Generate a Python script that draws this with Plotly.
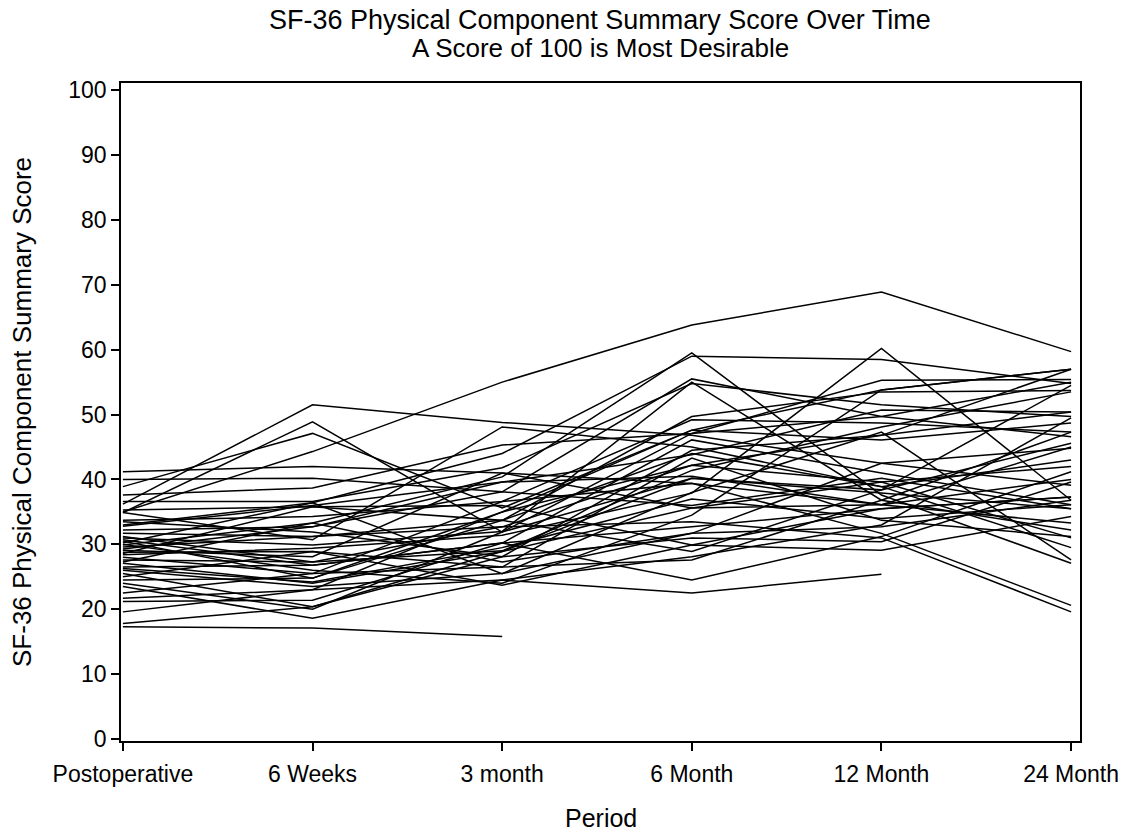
import plotly.graph_objects as go

periods = ["Postoperative", "6 Weeks", "3 month", "6 Month", "12 Month", "24 Month"]
y_ticks = [0, 10, 20, 30, 40, 50, 60, 70, 80, 90, 100]

# Each list: one patient's PCS score at the six periods (None = missing)
p01 = [35.0, 44.3, 55.0, 63.8, 68.9, 59.7]
p02 = [36.2, 51.5, 48.8, 46.8, 42.5, 39.1]
p03 = [34.9, 48.9, 31.9, 40.2, 38.4, 45.6]
p04 = [17.3, 17.1, 15.8, None, None, None]
p05 = [21.7, 23.0, 24.5, 22.5, 25.4, None]
p06 = [28.4, 29.4, 31.4, 37.9, 60.2, 36.8]
p07 = [33.0, 36.4, 44.0, 59.0, 58.5, 54.8]
p08 = [29.9, 33.3, 40.4, 59.5, 37.6, 27.1]
p09 = [41.2, 42.0, 41.0, 39.4, 36.1, 33.3]
p10 = [40.0, 40.2, 38.1, 55.5, 49.7, 46.6]
p11 = [38.9, 47.1, 35.6, 47.6, 53.8, 57.0]
p12 = [37.6, 38.7, 45.3, 47.1, 55.3, 55.4]
p13 = [36.6, 36.6, 41.8, 54.8, 51.5, 49.7]
p14 = [35.3, 35.8, 33.7, 49.7, 53.5, 53.7]
p15 = [33.7, 34.3, 36.6, 49.2, 48.7, 47.3]
p16 = [33.5, 31.9, 28.1, 44.5, 46.8, 57.0]
p17 = [32.2, 32.7, 39.6, 43.8, 50.7, 50.4]
p18 = [31.7, 31.2, 32.7, 42.2, 39.6, 42.0]
p19 = [31.2, 27.3, 29.0, 41.4, 48.1, 53.5]
p20 = [30.7, 26.8, 30.2, 46.1, 41.0, 36.1]
p21 = [30.5, 24.8, 35.0, 47.6, 46.1, 48.7]
p22 = [29.6, 31.2, 33.7, 44.0, 38.9, 43.0]
p23 = [29.1, 28.1, 41.0, 35.6, 36.1, 45.0]
p24 = [28.8, 28.9, 26.5, 43.3, 33.7, 31.2]
p25 = [28.0, 25.5, 36.6, 39.4, 31.7, 20.6]
p26 = [27.6, 27.3, 32.7, 33.5, 31.0, 19.6]
p27 = [27.1, 24.0, 28.9, 40.2, 37.9, 35.5]
p28 = [26.5, 26.8, 30.2, 32.7, 35.5, 37.3]
p29 = [26.0, 23.5, 25.5, 31.7, 32.7, 36.8]
p30 = [25.5, 20.4, 28.1, 31.0, 30.4, 39.6]
p31 = [25.0, 28.9, 23.7, 29.9, 29.1, 34.3]
p32 = [24.5, 24.8, 33.7, 28.9, 38.4, 54.5]
p33 = [24.0, 20.0, 31.9, 47.1, 49.7, 55.0]
p34 = [23.5, 18.6, 24.5, 28.1, 33.0, 49.5]
p35 = [22.5, 25.5, 26.5, 27.6, 36.8, 47.3]
p36 = [21.2, 21.4, 30.2, 24.5, 31.2, 41.2]
p37 = [19.6, 23.0, 35.0, 42.2, 46.8, 50.4]
p38 = [17.8, 20.4, 28.9, 35.6, 39.6, 31.0]
p39 = [34.9, 30.7, 48.1, 45.0, 38.9, 29.5]
p40 = [30.2, 36.4, 25.5, 38.0, 47.3, 27.6]
p41 = [29.3, 32.7, 38.1, 36.0, 40.2, 35.5]
p42 = [31.0, 29.9, 32.0, 55.0, 36.8, 32.2]
p43 = [28.6, 35.8, 36.0, 29.9, 35.5, 37.3]
p44 = [27.3, 33.3, 27.3, 31.7, 42.5, 44.8]
p45 = [30.0, 26.0, 24.0, 34.5, 53.8, 57.0]
p46 = [32.8, 36.0, 39.6, 40.5, 36.1, 40.0]
p47 = [26.3, 24.2, 29.5, 37.0, 34.0, 36.1]

patients = [p01, p02, p03, p04, p05, p06, p07, p08, p09, p10, p11, p12, p13, p14,
            p15, p16, p17, p18, p19, p20, p21, p22, p23, p24, p25, p26, p27, p28,
            p29, p30, p31, p32, p33, p34, p35, p36, p37, p38, p39, p40, p41, p42,
            p43, p44, p45, p46, p47]

title_line1 = "SF-36 Physical Component Summary Score Over Time"
title_line2 = "A Score of 100 is Most Desirable"
x_title = "Period"
y_title = "SF-36 Physical Component Summary Score"

FONT = "Liberation Sans, Arial, sans-serif"
W, H = 1132, 833
ML, MR, MT, MB = 121, 52, 83, 92

fig = go.Figure()
xs = list(range(len(periods)))
for vals in patients:
    fig.add_trace(go.Scatter(x=xs, y=vals, mode="lines",
                             line=dict(color="black", width=1.5),
                             connectgaps=False, showlegend=False,
                             hoverinfo="skip"))

def paper_xy(px, py):
    return ((px - ML) / (W - ML - MR), (H - MB - py) / (H - MT - MB))

anns = []
for text, py, size in [(title_line1, 20, 27), (title_line2, 48, 26)]:
    x, y = paper_xy(600, py)
    anns.append(dict(text=text, x=x, y=y, xref="paper", yref="paper",
                     xanchor="center", yanchor="middle", showarrow=False,
                     font=dict(size=size, family=FONT, color="black")))
x, y = paper_xy(601, 818)
anns.append(dict(text=x_title, x=x, y=y, xref="paper", yref="paper",
                 xanchor="center", yanchor="middle", showarrow=False,
                 font=dict(size=25, family=FONT, color="black")))
x, y = paper_xy(22, 412)
anns.append(dict(text=y_title, x=x, y=y, xref="paper", yref="paper",
                 xanchor="center", yanchor="middle", showarrow=False, textangle=-90,
                 font=dict(size=26, family=FONT, color="black")))

fig.update_layout(
    width=W, height=H,
    margin=dict(l=ML, r=MR, t=MT, b=MB),
    paper_bgcolor="white", plot_bgcolor="white",
    font=dict(family=FONT, color="black", size=23),
    annotations=anns,
)
fig.update_xaxes(
    range=[-0.01, 5.047], tickmode="array", tickvals=xs, ticktext=periods,
    showgrid=False, zeroline=False, showline=True, linecolor="black", linewidth=1.5,
    mirror=True, ticks="outside", ticklen=8, tickwidth=1.5, tickcolor="black",
    tickfont=dict(size=23), ticklabelstandoff=4,
)
fig.update_yaxes(
    range=[-0.3, 101.1], tickmode="array", tickvals=y_ticks,
    showgrid=False, zeroline=False, showline=True, linecolor="black", linewidth=1.5,
    mirror=True, ticks="outside", ticklen=8, tickwidth=1.5, tickcolor="black",
    tickfont=dict(size=23),
)

fig.write_html("out.html")
